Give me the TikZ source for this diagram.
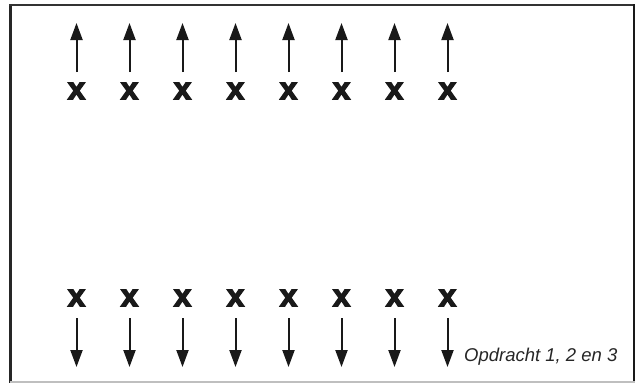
\documentclass[tikz,border=0pt]{standalone}
\usepackage{fontspec}
\setmainfont{Liberation Sans}
\newfontfamily\heavyx[FakeBold=4.5]{Liberation Sans Bold}
\usetikzlibrary{arrows.meta}
\begin{document}
\begin{tikzpicture}[x=1pt,y=-1pt,
  xmark/.style={inner sep=0pt, font=\heavyx\fontsize{31}{31}\selectfont, text=black!90},
  arr/.style={line width=2pt, draw=black!90, -{Triangle[width=12pt,length=17pt]}}]
\useasboundingbox (0,0) rectangle (636,383);
\fill[white] (0,0) rectangle (636,383);
% frame
\draw[line width=2.6pt, black!85] (10.5,4) -- (10.5,382.5);
\draw[line width=2pt, black!80] (9.2,5) -- (634.5,5);
\draw[line width=1.2pt, black!90] (634,4) -- (634,382);
\draw[line width=1.4pt, black!25] (10,382) -- (634.6,382);
\foreach \i in {1,...,8} {
  \pgfmathsetmacro{\xx}{76.5+53*(\i-1)}
  \node[xmark] (t\i) at (\xx,91) {x};
  \node[xmark] (b\i) at (\xx,298) {x};
  \coordinate (ts\i) at (\xx,72);
  \coordinate (te\i) at (\xx,23);
  \coordinate (bs\i) at (\xx,318);
  \coordinate (be\i) at (\xx,367);
  \draw[arr] (ts\i) -- (te\i);
  \draw[arr] (bs\i) -- (be\i);
}
\node[anchor=base west, inner sep=0pt, font=\itshape\fontsize{18.5}{18.5}\selectfont, text=black!85] (lab) at (464,361) {Opdracht 1, 2 en 3};
\end{tikzpicture}
\end{document}
